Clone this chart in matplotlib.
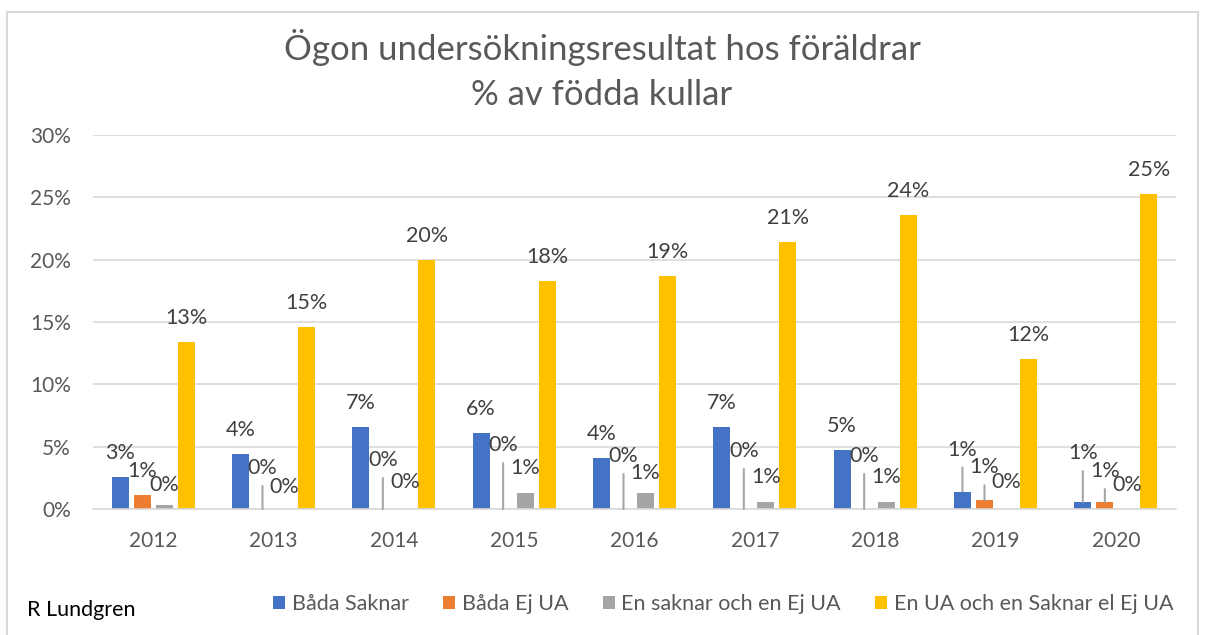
import matplotlib.pyplot as plt
import numpy as np
from matplotlib.patches import Patch
from matplotlib.lines import Line2D

plt.rcParams['font.family'] = ['Lato', 'DejaVu Sans']

# data (percent of born litters)
years = ['2012', '2013', '2014', '2015', '2016', '2017', '2018', '2019', '2020']
series_names = ['Båda Saknar', 'Båda Ej UA', 'En saknar och en Ej UA',
                'En UA och en Saknar el Ej UA']
bada_saknar = [2.6, 4.4, 6.6, 6.1, 4.1, 6.6, 4.7, 1.4, 0.55]
bada_ej_ua = [1.1, 0, 0, 0, 0, 0, 0, 0.7, 0.55]
en_saknar_ej_ua = [0.35, 0, 0, 1.3, 1.3, 0.6, 0.6, 0, 0]
en_ua_saknar = [13.4, 14.6, 20.0, 18.3, 18.7, 21.4, 23.6, 12.0, 25.3]

colors = ['#4472C4', '#ED7D31', '#A5A5A5', '#FFC000']
txt_col = '#595959'
lbl_col = '#404040'
grid_col = '#D9D9D9'

# lift of data label above bar top (pixels), default 24; large lifts get a leader line
label_lift = {
    (2, 0): 20,
    (1, 1): 41, (2, 1): 22,
    (1, 2): 49, (2, 2): 27,
    (1, 3): 64, (2, 3): 25,
    (1, 4): 53, (2, 4): 20,
    (1, 5): 58, (2, 5): 25,
    (1, 6): 53, (2, 6): 25,
    (0, 7): 42, (1, 7): 33, (2, 7): 27,
    (0, 8): 49, (1, 8): 31, (2, 8): 24,
}

fig = plt.figure(figsize=(12.06, 6.35), dpi=100)
ax = fig.add_axes([93 / 1206, 126 / 635, 1083 / 1206, 374 / 635])

x = np.arange(len(years))
step = 0.183
width = 0.141
all_series = [bada_saknar, bada_ej_ua, en_saknar_ej_ua, en_ua_saknar]

for s, vals in enumerate(all_series):
    xs = x + (s - 1.5) * step
    ax.bar(xs, vals, width=width, color=colors[s], zorder=3)
    for i, v in enumerate(vals):
        lift = label_lift.get((s, i), 24)
        ax.annotate(f'{round(v):.0f}%', xy=(xs[i], v), xytext=(0, lift * 0.72),
                    textcoords='offset points', ha='center', va='center',
                    fontsize=15.5, color=lbl_col, zorder=5)
        if lift >= 30:
            ax.annotate('', xy=(xs[i], v), xytext=(0, (lift - 18) * 0.72),
                        textcoords='offset points',
                        arrowprops=dict(arrowstyle='-', color='#A6A6A6', lw=1.5,
                                        shrinkA=0, shrinkB=0), zorder=4)

ax.set_xlim(-0.5, len(years) - 0.5)
ax.set_ylim(0, 30)
ax.set_yticks(np.arange(0, 31, 5))
ax.set_yticklabels([f'{t}%' for t in range(0, 31, 5)])
ax.set_xticks(x)
ax.set_xticklabels(years)
ax.tick_params(axis='y', length=0, pad=16, labelsize=15, labelcolor=txt_col)
ax.tick_params(axis='x', length=0, pad=16, labelsize=15, labelcolor=txt_col)
ax.grid(axis='y', color=grid_col, lw=1.2, zorder=0)
for sp in ['top', 'right', 'left']:
    ax.spines[sp].set_visible(False)
ax.spines['bottom'].set_color(grid_col)
ax.spines['bottom'].set_linewidth(1.2)
ax.spines['bottom'].set_zorder(3)

fig.text(602 / 1206, 1 - 47 / 635, 'Ögon undersökningsresultat hos föräldrar',
         ha='center', va='center', fontsize=25, color=txt_col)
fig.text(602 / 1206, 1 - 95 / 635, '% av födda kullar',
         ha='center', va='center', fontsize=25, color=txt_col)

handles = [Patch(facecolor=c, edgecolor='none') for c in colors]
fig.legend(handles, series_names, loc='center left',
           bbox_to_anchor=(254 / 1206, 1 - 604 / 635), ncol=4, frameon=False,
           handlelength=0.56, handleheight=0.56, handletextpad=0.3,
           columnspacing=1.6, fontsize=15.5, labelcolor=txt_col)

fig.text(27 / 1206, 1 - 610 / 635, 'R Lundgren', ha='left', va='center',
         fontsize=15.5, color='black')

# chart frame
for xy in [([7, 7], [12, 640]), ([7, 1198], [12, 12]), ([1198, 1198], [12, 640])]:
    fig.add_artist(Line2D(np.array(xy[0]) / 1206, 1 - np.array(xy[1]) / 635,
                          color=grid_col, lw=1.5, transform=fig.transFigure))

fig.savefig('out.png', dpi=100)
